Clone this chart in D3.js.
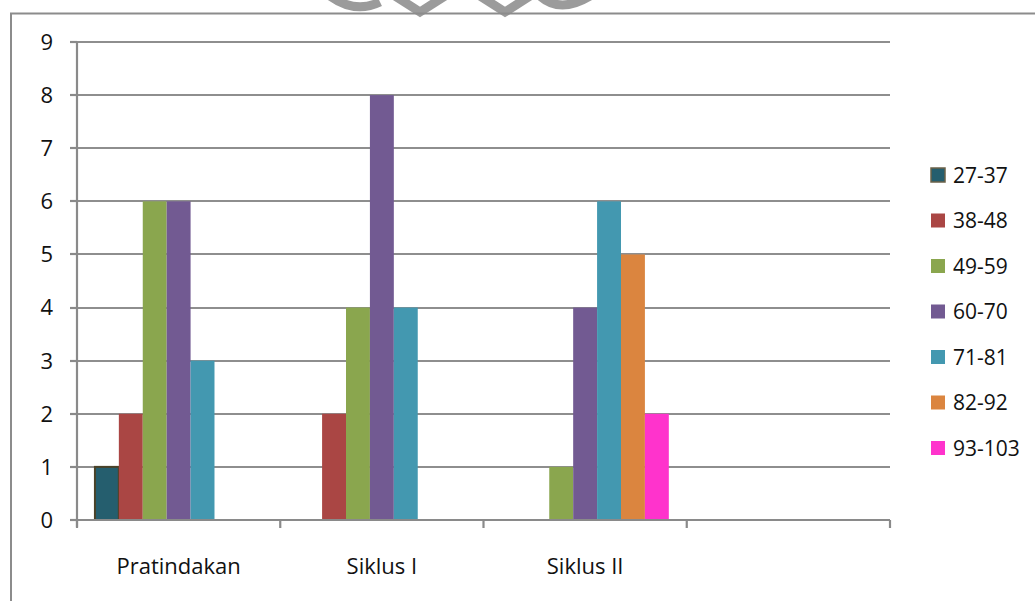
<!DOCTYPE html>
<html><head><meta charset="utf-8">
<script src="https://cdn.jsdelivr.net/npm/d3@7/dist/d3.min.js"></script>
<style>body{margin:0;background:#fff}svg{display:block}text{font-family:"Open Sans",sans-serif;fill:#111}</style>
</head><body>
<svg id="c" width="1035" height="601"></svg>
<script>
const categories = ["Pratindakan", "Siklus I", "Siklus II", ""];
const seriesNames = ["27-37", "38-48", "49-59", "60-70", "71-81", "82-92", "93-103"];
const s2737 = [1, 0, 0, 0];
const s3848 = [2, 2, 0, 0];
const s4959 = [6, 4, 1, 0];
const s6070 = [6, 8, 4, 0];
const s7181 = [3, 4, 6, 0];
const s8292 = [0, 0, 5, 0];
const s93103 = [0, 0, 2, 0];
const yTicks = [0, 1, 2, 3, 4, 5, 6, 7, 8, 9];
const colors = ["#255e6e", "#aa4644", "#8aa64e", "#725a92", "#4398b0", "#db853f", "#ff33cc"];
const seriesValues = [s2737, s3848, s4959, s6070, s7181, s8292, s93103];

const svg = d3.select("#c");
// watermark fragment
svg.append("path").attr("d","M330,-4 Q355,14 380,2 M395,-4 L420,12 L445,-4 M480,-4 L505,12 L530,-4 M540,-4 Q560,14 590,-4")
  .attr("fill","none").attr("stroke","#8a8a8a").attr("stroke-width",9).attr("opacity",0.85);
// chart frame
svg.append("rect").attr("x",11).attr("y",13.5).attr("width",1100).attr("height",700)
  .attr("fill","none").attr("stroke","#8c8c8c").attr("stroke-width",2);

const x0 = 77, x1 = 890, yTop = 42, yBot = 520;
const x = d3.scaleBand().domain(categories.map((c,i)=>i)).range([x0, x1]).padding(0);
const y = d3.scaleLinear().domain([0, 9]).range([yBot, yTop]);
const bw = x.bandwidth() / 8.5;
const xs = d3.scaleBand().domain(seriesNames).range([0.75*bw, 0.75*bw + 7*bw]).padding(0);

// gridlines
svg.append("g").selectAll("line").data(yTicks.filter(d=>d>0)).join("line")
  .attr("x1", 70).attr("x2", x1).attr("y1", d=>Math.round(y(d))).attr("y2", d=>Math.round(y(d)))
  .attr("stroke", "#8e8e8e").attr("stroke-width", 2.2);

// bars
seriesValues.forEach((vals, si) => {
  svg.append("g").selectAll("rect").data(vals.map((v,ci)=>({v,ci}))).join("rect")
    .filter(d=>d.v>0)
    .attr("x", d=>x(d.ci) + xs(seriesNames[si]))
    .attr("width", xs.bandwidth())
    .attr("y", d=>y(d.v))
    .attr("height", d=>yBot - y(d.v))
    .attr("fill", colors[si])
    .attr("stroke", si===0 ? "#4a4228" : "none")
    .attr("stroke-width", si===0 ? 2 : 0);
});

// y axis
svg.append("line").attr("x1",x0).attr("x2",x0).attr("y1",yTop).attr("y2",yBot+7).attr("stroke","#8a8a8a").attr("stroke-width",2.2);
svg.append("g").selectAll("line").data(yTicks).join("line")
  .attr("x1",70).attr("x2",x0).attr("y1",d=>Math.round(y(d))).attr("y2",d=>Math.round(y(d)))
  .attr("stroke","#8a8a8a").attr("stroke-width",2.2);
svg.append("g").selectAll("text").data(yTicks).join("text")
  .attr("x", 53).attr("y", d=>y(d)).attr("dy","0.36em").attr("text-anchor","end")
  .style("font-size","22px").text(d=>d);

// x axis
svg.append("line").attr("x1",70).attr("x2",x1).attr("y1",yBot).attr("y2",yBot).attr("stroke","#8a8a8a").attr("stroke-width",2.2);
const bounds = categories.map((c,i)=>x(i)).concat([x1]);
svg.append("g").selectAll("line").data(bounds).join("line")
  .attr("x1",d=>d).attr("x2",d=>d).attr("y1",yBot).attr("y2",yBot+8)
  .attr("stroke","#8a8a8a").attr("stroke-width",2.2);
svg.append("g").selectAll("text").data(categories.map((c,i)=>({c,i}))).join("text")
  .attr("x", d=>x(d.i)+x.bandwidth()/2).attr("y", 574).attr("text-anchor","middle")
  .style("font-size","22px").text(d=>d.c);

// legend
const ly = d3.scalePoint().domain(seriesNames).range([175, 448]);
const lg = svg.append("g");
lg.selectAll("rect").data(seriesNames).join("rect")
  .attr("x", 931).attr("y", d=>ly(d)-7).attr("width", 14).attr("height", 14)
  .attr("fill", (d,i)=>colors[i]).attr("stroke",(d,i)=>i===0?"#6b6248":"none").attr("stroke-width",1.5);
lg.selectAll("text").data(seriesNames).join("text")
  .attr("x", 953).attr("y", d=>ly(d)).attr("dy","0.36em")
  .style("font-size","21px").text(d=>d);
</script>
</body></html>
